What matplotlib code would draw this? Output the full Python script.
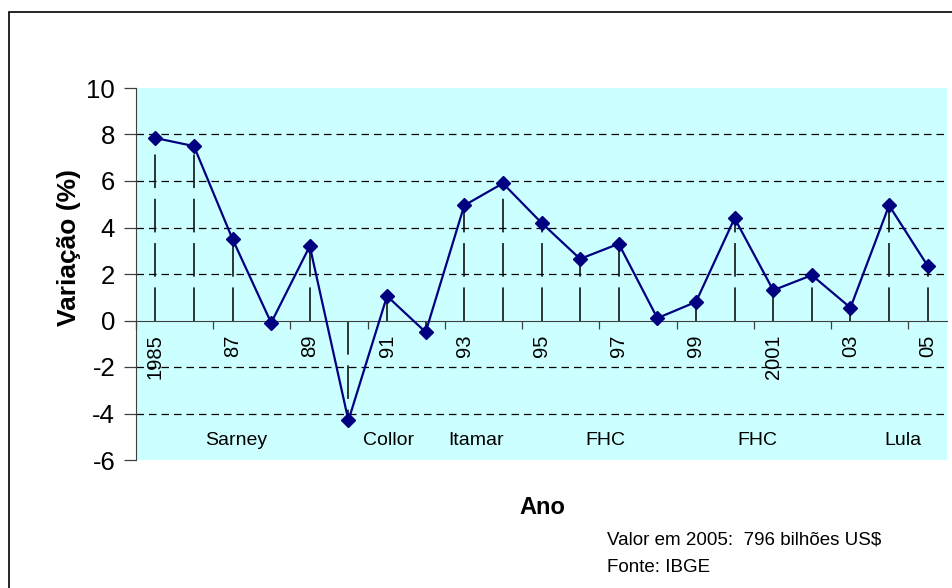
import numpy as np
import matplotlib
matplotlib.use('Agg')
import matplotlib.pyplot as plt
from matplotlib.patches import Rectangle

plt.rcParams['font.family'] = ['Liberation Sans', 'DejaVu Sans']
plt.rcParams['axes.unicode_minus'] = False

# data
years = list(range(1985, 2006))
variacao = [7.85, 7.5, 3.5, -0.1, 3.2, -4.3, 1.05, -0.5, 4.95, 5.9, 4.2,
            2.65, 3.3, 0.1, 0.8, 4.4, 1.3, 1.95, 0.55, 4.95, 2.35]
tick_labels = ['1985', '87', '89', '91', '93', '95', '97', '99', '2001', '03', '05']
governos = ['Sarney', 'Collor', 'Itamar', 'FHC', 'FHC', 'Lula']
governos_x = [1987.1, 1991.05, 1993.3, 1996.65, 2000.6, 2004.35]

fig = plt.figure(figsize=(9.52, 5.88), dpi=100)
ax = fig.add_axes([136/952, 1-460/588, 811/952, 372/588])
ax.set_facecolor('#CCFFFF')

# horizontal dashed grid
for v in [2, 4, 6, 8, -2, -4]:
    ax.axhline(v, color='black', lw=0.9, ls=(0, (6, 4)), zorder=1)

# drop lines
ax.vlines(years, 0, variacao, colors='black', lw=1.1, ls=(0, (22, 7)), zorder=2)

ax.plot(years, variacao, color='#000080', lw=1.6, marker='D', ms=7.5,
        markerfacecolor='#000080', markeredgecolor='#000080', zorder=3)

for nome, xp in zip(governos, governos_x):
    ax.text(xp, -5.15, nome, ha='center', va='center', fontsize=14)

ax.set_xlim(years[0]-0.5, years[-1]+0.5)
ax.set_ylim(-6, 10)
ax.set_yticks(range(-6, 11, 2))
ax.tick_params(axis='y', labelsize=18.5, length=9, width=0.9, pad=6, color='#404040')

ax.spines['top'].set_visible(False)
ax.spines['right'].set_visible(False)
ax.spines['left'].set_color('#404040')
ax.spines['bottom'].set_position(('data', 0))
ax.spines['bottom'].set_color('#404040')

ax.set_xticks(np.arange(years[0]-0.5, years[-1]+1, 2))
ax.set_xticklabels([])
ax.tick_params(axis='x', which='major', length=6, width=0.9, direction='out', color='#404040')
ax.set_xticks(years[::2], minor=True)
ax.set_xticklabels(tick_labels, minor=True, rotation=90, fontsize=14.5)
ax.tick_params(axis='x', which='minor', length=0, pad=10)

fig.text(69/952, 1-248/588, 'Variação (%)', rotation=90, ha='center', va='center',
         fontsize=19, fontweight='bold')
fig.text(542/952, 1-508/588, 'Ano', ha='center', va='center', fontsize=17, fontweight='bold')
fig.text(607/952, 1-540/588, 'Valor em 2005:  796 bilhões US$', ha='left', va='center', fontsize=13.5)
fig.text(607/952, 1-567/588, 'Fonte: IBGE', ha='left', va='center', fontsize=13.5)

fig.patches.append(Rectangle((9/952, -0.1), 1.2, 1.1-12/588, transform=fig.transFigure,
                             fill=False, edgecolor='black', lw=1.2))

fig.savefig('out.png', dpi=100)
